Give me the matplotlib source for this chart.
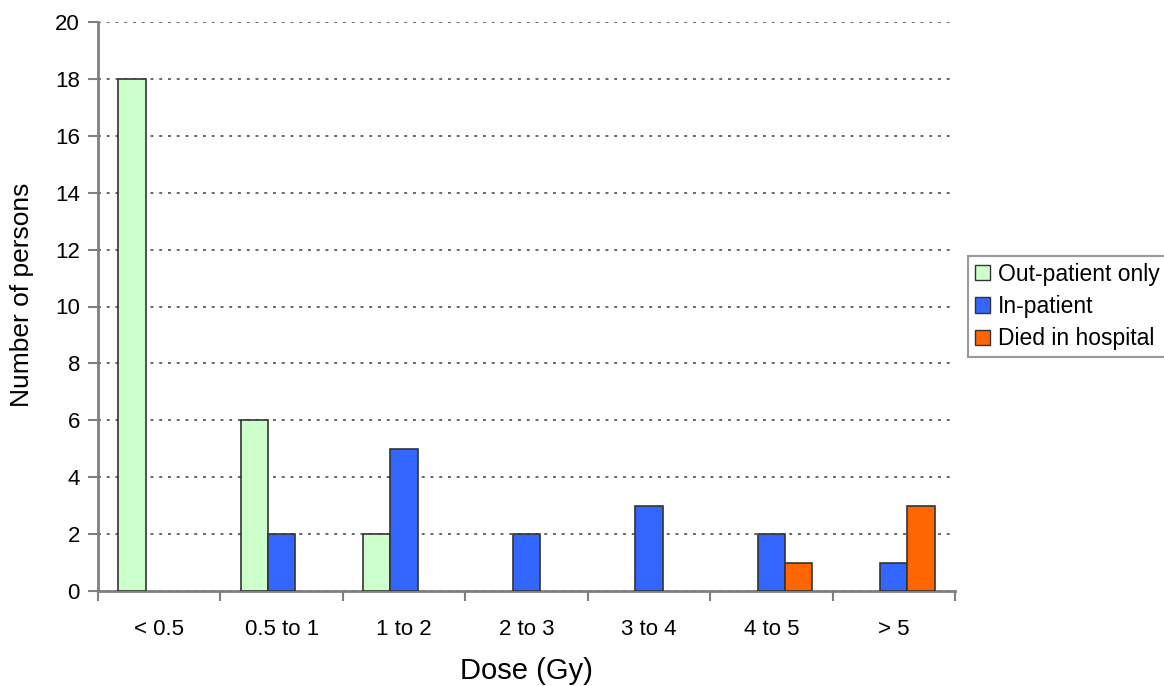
import numpy as np
import matplotlib
matplotlib.use("Agg")
import matplotlib.pyplot as plt

plt.rcParams["font.family"] = ["Liberation Sans", "DejaVu Sans"]

categories = ["< 0.5", "0.5 to 1", "1 to 2", "2 to 3", "3 to 4", "4 to 5", "> 5"]
out_patient = [18, 6, 2, 0, 0, 0, 0]
in_patient = [0, 2, 5, 2, 3, 2, 1]
died = [0, 0, 0, 0, 0, 1, 3]

series = [
    ("Out-patient only", out_patient, "#CCFFCC"),
    ("In-patient", in_patient, "#3366FF"),
    ("Died in hospital", died, "#FF6600"),
]

fig = plt.figure(figsize=(11.64, 6.86), dpi=100)
ax = fig.add_axes([98 / 1164, 95 / 686, (955 - 98) / 1164, 569 / 686])

x = np.arange(len(categories))
w = 0.222
handles = []
for i, (name, vals, col) in enumerate(series):
    vals = np.array(vals, dtype=float)
    mask = vals > 0
    ax.bar(x[mask] + (i - 1) * w, vals[mask], width=w, color=col,
           edgecolor="#333333", linewidth=1.2, zorder=3)
    handles.append(plt.Rectangle((0, 0), 1, 1, facecolor=col, edgecolor="#333333", linewidth=1.0))

ax.set_xlim(-0.5, len(categories) - 0.5)
ax.set_ylim(0, 20)
ax.set_yticks(range(0, 21, 2))
ax.set_xticks(x)
ax.set_xticklabels(categories, fontsize=16)
ax.set_xticks(np.arange(-0.5, len(categories), 1.0), minor=True)
ax.tick_params(axis="x", which="major", length=0, pad=20)
ax.tick_params(axis="x", which="minor", length=7, color="#808080", width=1.5)
ax.tick_params(axis="y", labelsize=16, length=7, color="#808080", width=1.5, pad=6)

ax.yaxis.grid(True, linestyle=(0, (1.5, 3)), color="#666666", linewidth=1.4, zorder=0)
for s in ["top", "right"]:
    ax.spines[s].set_visible(False)
for s in ["left", "bottom"]:
    ax.spines[s].set_color("#808080")
    ax.spines[s].set_linewidth(2)

ax.set_xlabel("Dose (Gy)", fontsize=21)
ax.xaxis.set_label_coords(0.5, -0.116)
ax.set_ylabel("Number of persons", fontsize=19)
ax.yaxis.set_label_coords(-0.075, 0.52)

leg = fig.legend(handles, [s[0] for s in series], loc="upper left",
                 bbox_to_anchor=(968 / 1164, 1 - 256 / 686), fontsize=16.5,
                 frameon=True, fancybox=False, handlelength=0.65, handleheight=0.65,
                 handletextpad=0.35, borderpad=0.3, labelspacing=0.4, borderaxespad=0)
leg.get_frame().set_edgecolor("#808080")
leg.get_frame().set_linewidth(1.5)

fig.savefig("out.png", dpi=100)
